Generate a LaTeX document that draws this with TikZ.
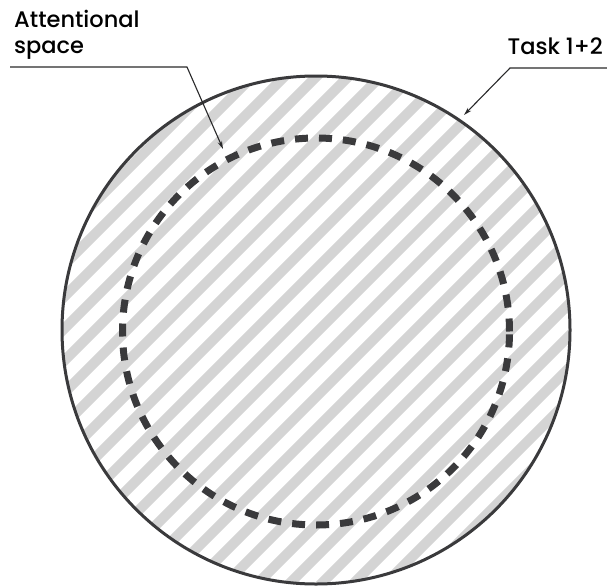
\documentclass[tikz,border=0pt]{standalone}
\usepackage{fontspec}
\setmainfont{Poppins}[UprightFont=* Medium]
\usetikzlibrary{arrows.meta}
\definecolor{ink}{HTML}{3A3A3C}
\definecolor{stripegray}{HTML}{D4D4D4}
\begin{document}
\begin{tikzpicture}[x=1pt,y=-1pt,
  stripe/.style={draw=stripegray,line width=10pt},
  outerring/.style={draw=ink,line width=3pt},
  innerring/.style={draw=ink,line width=7pt,dash pattern=on 13pt off 11pt},
  leader/.style={draw=ink!70!black,line width=1.1pt,-{Stealth[length=8pt,width=4.5pt]}},
  lbl/.style={inner sep=0pt,font=\fontsize{22.5}{25}\selectfont,text=black}]
\useasboundingbox (0,0) rectangle (607,586);
\coordinate (c) at (316,330);
\begin{scope}
  \clip (c) circle (254pt);
  \foreach \k in {0,...,33} {
    \pgfmathsetmacro{\cc}{137+32*\k}
    \draw[stripe] (\cc-700,700) -- (\cc+100,-100);
  }
\end{scope}
\draw[outerring] (c) circle (254pt);
\draw[innerring] (316,331.5) circle (193.5pt);
\node[lbl,anchor=base west] (att1) at (14,28) {Attentional};
\node[lbl,anchor=base west] (att2) at (14,53) {space};
\node[lbl,anchor=base east] (task) at (603,55) {Task 1+2};
\coordinate (a0) at (10,67);
\coordinate (a1) at (187,67);
\coordinate (a2) at (223,149);
\coordinate (t0) at (607,68);
\coordinate (t1) at (510,68);
\coordinate (t2) at (464,115);
\draw[leader] (a0) -- (a1) -- (a2);
\draw[leader] (t0) -- (t1) -- (t2);
\end{tikzpicture}
\end{document}
